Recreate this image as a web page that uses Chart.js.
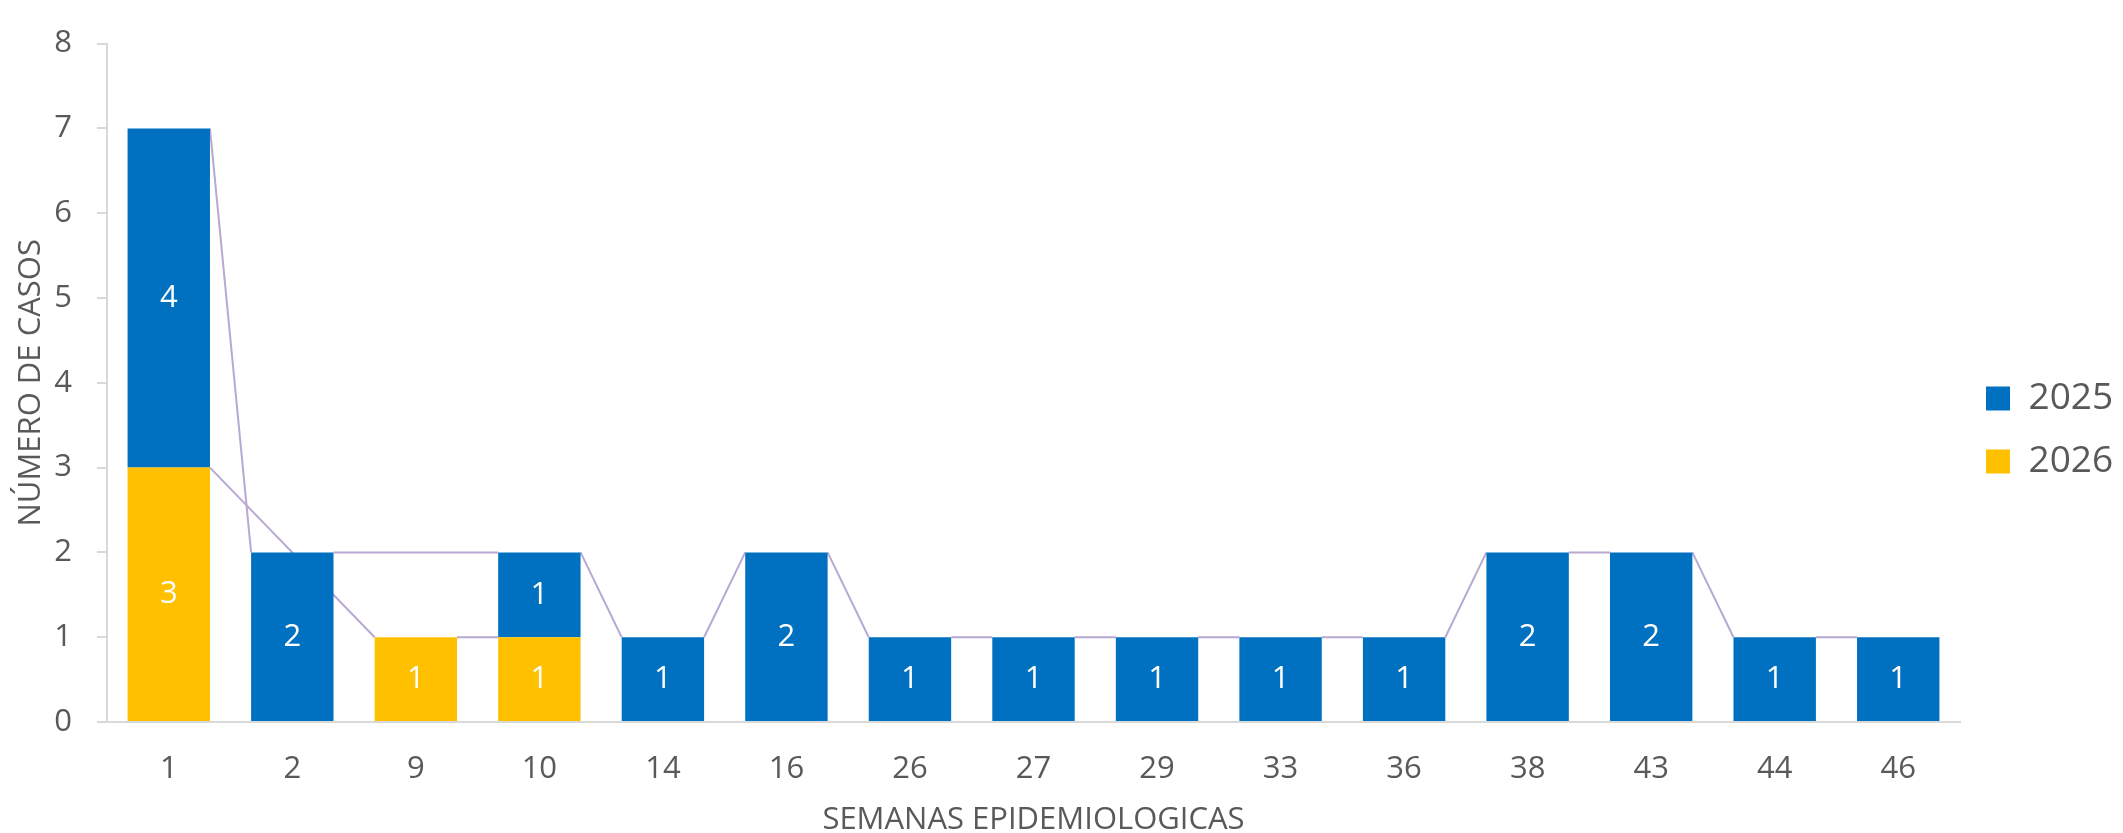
<!DOCTYPE html>
<html>
<head>
<meta charset="utf-8">
<script src="https://cdn.jsdelivr.net/npm/chart.js@4"></script>
<style>
    body { margin: 0; background: #ffffff; }
</style>
</head>
<body>
<canvas id="barChart" width="2123" height="833"></canvas>
<script>
var semanas = ['1', '2', '9', '10', '14', '16', '26', '27', '29', '33', '36', '38', '43', '44', '46'];
var casos2025 = [4, 2, null, 1, 1, 2, 1, 1, 1, 1, 1, 2, 2, 1, 1];
var casos2026 = [3, null, 1, 1, null, null, null, null, null, null, null, null, null, null, null];
var yTicks = [0, 1, 2, 3, 4, 5, 6, 7, 8];

var textColor = '#595959';
var axisColor = '#D9D9D9';

// Lines joining the top of each series from one bar to the next (like Excel series lines)
var seriesLines = {
    id: 'seriesLines',
    beforeDatasetsDraw: function(chart) {
        var ctx = chart.ctx;
        ctx.save();
        ctx.strokeStyle = '#B8A8D2';
        ctx.lineWidth = 2;
        chart.data.datasets.forEach(function(ds, i) {
            var meta = chart.getDatasetMeta(i);
            var prev = null;
            meta.data.forEach(function(bar, j) {
                if (ds.data[j] == null) return;
                if (prev) {
                    ctx.beginPath();
                    ctx.moveTo(prev.x + prev.width / 2, prev.y);
                    ctx.lineTo(bar.x - bar.width / 2, bar.y);
                    ctx.stroke();
                }
                prev = bar;
            });
        });
        ctx.restore();
    }
};

// Value labels in the middle of each segment
var valueLabels = {
    id: 'valueLabels',
    afterDatasetsDraw: function(chart) {
        var ctx = chart.ctx;
        ctx.save();
        ctx.fillStyle = '#ffffff';
        ctx.font = '31px "Open Sans"';
        ctx.textAlign = 'center';
        ctx.textBaseline = 'middle';
        chart.data.datasets.forEach(function(ds, i) {
            var meta = chart.getDatasetMeta(i);
            meta.data.forEach(function(bar, j) {
                if (ds.data[j] == null) return;
                ctx.fillText(ds.data[j], bar.x, (bar.y + bar.base) / 2);
            });
        });
        ctx.restore();
    }
};

var ctx1 = document.getElementById('barChart').getContext('2d');
window.myChart1 = new Chart(ctx1, {
    type: 'bar',
    data: {
        labels: semanas,
        datasets: [
            {
                label: '2026',
                data: casos2026,
                backgroundColor: '#FFC000',
                borderWidth: 0,
                barPercentage: 0.667,
                categoryPercentage: 1
            },
            {
                label: '2025',
                data: casos2025,
                backgroundColor: '#0070C0',
                borderWidth: 0,
                barPercentage: 0.667,
                categoryPercentage: 1
            }
        ]
    },
    options: {
        responsive: false,
        animation: false,
        layout: {
            padding: { top: 27, left: 0, right: 0, bottom: 0 }
        },
        plugins: {
            title: { display: false },
            tooltip: { enabled: false },
            legend: {
                display: true,
                position: 'right',
                reverse: true,
                maxWidth: 163,
                labels: {
                    boxWidth: 24,
                    boxHeight: 24,
                    padding: 26,
                    color: textColor,
                    font: { family: 'Open Sans', size: 37 }
                }
            }
        },
        scales: {
            x: {
                stacked: true,
                grid: { display: false, drawTicks: false },
                border: { display: true, color: axisColor, width: 2 },
                ticks: {
                    color: textColor,
                    padding: 29,
                    maxRotation: 0,
                    font: { family: 'Open Sans', size: 31 }
                },
                title: {
                    display: true,
                    text: 'SEMANAS EPIDEMIOLOGICAS',
                    color: textColor,
                    padding: { top: 0, bottom: 0 },
                    font: { family: 'Open Sans', size: 31, lineHeight: 0.8 }
                },
                afterFit: function(scale) {
                    scale.height = 111;
                }
            },
            y: {
                stacked: true,
                min: 0,
                max: 8,
                afterBuildTicks: function(scale) {
                    scale.ticks = yTicks.map(function(v) { return { value: v }; });
                },
                grid: {
                    drawOnChartArea: false,
                    drawTicks: true,
                    tickLength: 10,
                    color: axisColor,
                    lineWidth: 2
                },
                border: { display: true, color: axisColor, width: 2 },
                ticks: {
                    color: textColor,
                    padding: 25,
                    font: { family: 'Open Sans', size: 31 }
                },
                title: {
                    display: true,
                    text: 'NÚMERO DE CASOS',
                    color: textColor,
                    padding: { top: 13, bottom: 0 },
                    font: { family: 'Open Sans', size: 31 }
                },
                afterFit: function(scale) {
                    scale.width = 107;
                }
            }
        }
    },
    plugins: [seriesLines, valueLabels]
});
</script>
</body>
</html>
